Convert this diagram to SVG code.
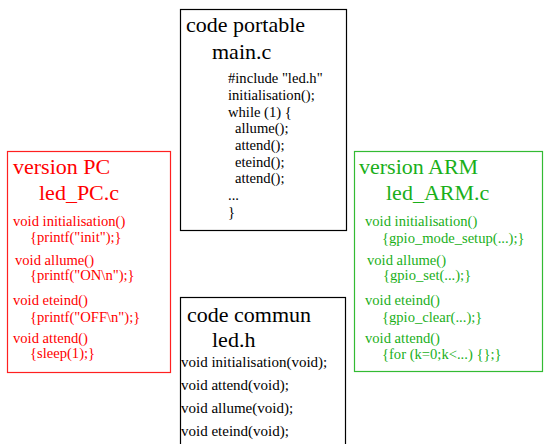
<svg xmlns="http://www.w3.org/2000/svg" width="544" height="444" viewBox="0 0 544 444" font-family="'Liberation Serif', 'DejaVu Serif', serif">
<style>
.h{font-size:22px}
.c{font-size:14.6px}
.cc{font-size:15px}
.box{fill:#fff;stroke-width:1.2}
.k{fill:#000}
.r{fill:#ff0000}
.g{fill:#1aaf1a}
</style>
<rect width="544" height="444" fill="#fff"/>
<g id="main">
<rect class="box" x="180.5" y="9.5" width="166" height="221" stroke="#000"/>
<text class="h k" x="186" y="32">code portable</text>
<text class="h k" x="212" y="59">main.c</text>
<text class="c k" x="228" y="83">#include "led.h"</text>
<text class="c k" x="228" y="100">initialisation();</text>
<text class="c k" x="228" y="117">while (1) {</text>
<text class="c k" x="235" y="133">allume();</text>
<text class="c k" x="235" y="150">attend();</text>
<text class="c k" x="235" y="167">eteind();</text>
<text class="c k" x="235" y="183">attend();</text>
<text class="c k" x="228" y="200">...</text>
<text class="c k" x="228" y="217">}</text>
</g>
<g id="pc">
<rect class="box" x="7.5" y="151.5" width="163" height="221" stroke="#ff2020"/>
<text class="h r" x="13" y="174">version PC</text>
<text class="h r" x="39" y="200">led_PC.c</text>
<text class="c r" x="13" y="226">void initialisation()</text>
<text class="c r" x="30" y="242">{printf("init");}</text>
<text class="c r" x="15" y="265">void allume()</text>
<text class="c r" x="30" y="280">{printf("ON\n");}</text>
<text class="c r" x="13" y="305">void eteind()</text>
<text class="c r" x="30" y="322">{printf("OFF\n");}</text>
<text class="c r" x="13" y="343">void attend()</text>
<text class="c r" x="30" y="358">{sleep(1);}</text>
</g>
<g id="arm">
<rect class="box" x="354.5" y="151.5" width="188" height="220" stroke="#33bb33"/>
<text class="h g" x="359" y="174">version ARM</text>
<text class="h g" x="386" y="200">led_ARM.c</text>
<text class="c g" x="365" y="226">void initialisation()</text>
<text class="c g" x="382" y="243">{gpio_mode_setup(...);}</text>
<text class="c g" x="367" y="265">void allume()</text>
<text class="c g" x="383" y="280">{gpio_set(...);}</text>
<text class="c g" x="365" y="305">void eteind()</text>
<text class="c g" x="382" y="322">{gpio_clear(...);}</text>
<text class="c g" x="365" y="343">void attend()</text>
<text class="c g" x="382" y="359">{for (k=0;k&lt;...) {};}</text>
</g>
<g id="commun">
<rect class="box" x="180.5" y="297.5" width="165" height="160" stroke="#000"/>
<text class="h k" x="187" y="322">code commun</text>
<text class="h k" x="212" y="347">led.h</text>
<text class="cc k" x="181" y="367">void initialisation(void);</text>
<text class="cc k" x="181" y="390">void attend(void);</text>
<text class="cc k" x="181" y="413">void allume(void);</text>
<text class="cc k" x="181" y="436">void eteind(void);</text>
</g>
<g id="connectors"></g>
</svg>
